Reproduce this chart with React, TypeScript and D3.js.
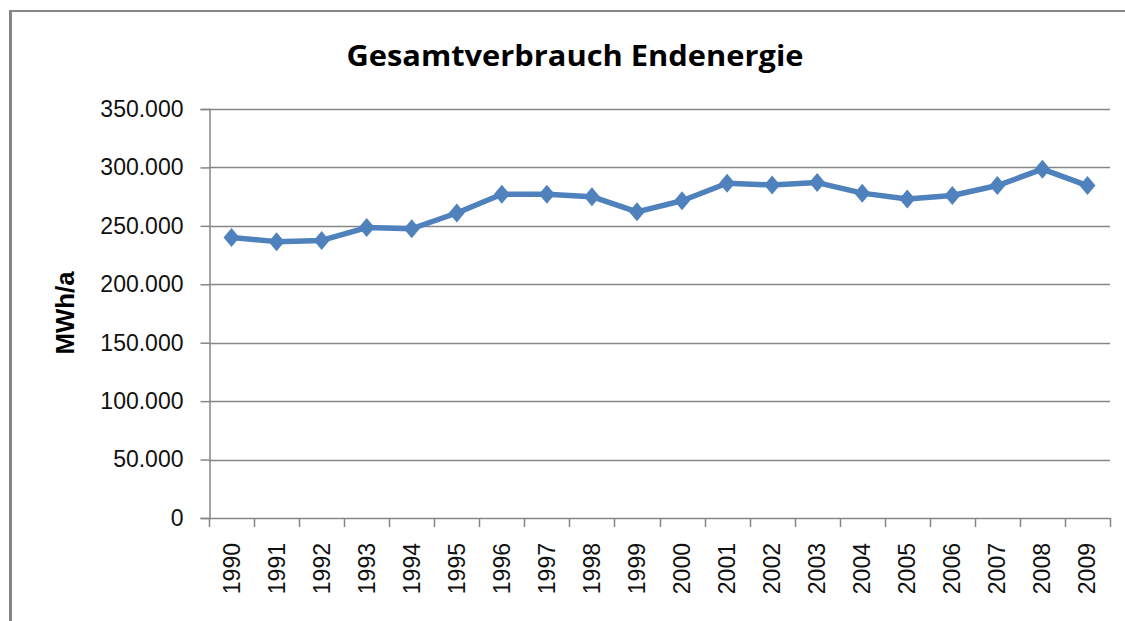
import React, { useEffect, useRef } from 'react';
import * as d3 from 'd3';

// Jahre und Verbrauch (MWh/a)
const years = ['1990', '1991', '1992', '1993', '1994', '1995', '1996', '1997', '1998', '1999',
  '2000', '2001', '2002', '2003', '2004', '2005', '2006', '2007', '2008', '2009'];
const consumption = [240000, 236500, 237500, 248500, 247500, 261000, 277000, 277000, 275000, 262000,
  271500, 286500, 285000, 287000, 278000, 273000, 276000, 284500, 298500, 284500];
const yTicks = [0, 50000, 100000, 150000, 200000, 250000, 300000, 350000];

const title = 'Gesamtverbrauch Endenergie';
const yLabel = 'MWh/a';

const App = () => {
  const svgRef = useRef<SVGSVGElement>(null);

  useEffect(() => {
    if (!svgRef.current) return;
    const W = 1125;
    const H = 621;
    const left = 209, right = 1110, top = 109, bottom = 518;
    const gray = '#868686';
    const blue = '#4F81BD';
    const font = '"Liberation Sans", Arial, sans-serif';

    const svg = d3.select(svgRef.current);
    svg.selectAll('*').remove();
    svg.attr('width', W).attr('height', H);

    svg.append('rect').attr('width', W).attr('height', H).attr('fill', '#fff');

    // Rahmen (nur oben und links sichtbar)
    svg.append('line')
      .attr('x1', 10.5).attr('x2', W).attr('y1', 11).attr('y2', 11)
      .attr('stroke', gray).attr('stroke-width', 2);
    svg.append('line')
      .attr('x1', 10.5).attr('x2', 10.5).attr('y1', 10).attr('y2', H)
      .attr('stroke', gray).attr('stroke-width', 3);

    const de = d3.formatLocale({ decimal: ',', thousands: '.', grouping: [3], currency: ['', ' €'] });
    const fmt = de.format(',d');

    const x = d3.scaleBand().domain(years).range([left, right]).padding(0);
    const y = d3.scaleLinear().domain([0, 350000]).range([bottom, top]);

    // Gitterlinien
    svg.append('g')
      .selectAll('line')
      .data(yTicks.filter(d => d > 0))
      .enter()
      .append('line')
      .attr('x1', left).attr('x2', right)
      .attr('y1', d => Math.round(y(d)) + 0.5).attr('y2', d => Math.round(y(d)) + 0.5)
      .attr('stroke', gray).attr('stroke-width', 1.5);

    // y-Achse
    const yAxis = svg.append('g')
      .attr('transform', `translate(${left + 0.5},0)`)
      .call(d3.axisLeft(y).tickValues(yTicks).tickSize(9).tickPadding(17).tickFormat(d => fmt(d as number)));
    yAxis.select('.domain').attr('stroke', gray).attr('stroke-width', 1.5);
    yAxis.selectAll('.tick line').attr('stroke', gray).attr('stroke-width', 1.5);
    yAxis.selectAll('text')
      .attr('fill', '#111')
      .style('font-family', font)
      .style('font-size', '23px');

    // x-Achse
    const xg = svg.append('g');
    xg.append('line')
      .attr('x1', left).attr('x2', right)
      .attr('y1', bottom + 0.5).attr('y2', bottom + 0.5)
      .attr('stroke', gray).attr('stroke-width', 1.5);
    const boundaries = years.map(d => x(d) as number).concat([right]);
    xg.selectAll('.xtick')
      .data(boundaries)
      .enter()
      .append('line')
      .attr('class', 'xtick')
      .attr('x1', d => Math.round(d) + 0.5).attr('x2', d => Math.round(d) + 0.5)
      .attr('y1', bottom).attr('y2', bottom + 9)
      .attr('stroke', gray).attr('stroke-width', 1.5);
    xg.selectAll('.xlabel')
      .data(years)
      .enter()
      .append('text')
      .attr('class', 'xlabel')
      .attr('transform', d => `translate(${(x(d) as number) + x.bandwidth() / 2 + 8},${bottom + 25}) rotate(-90)`)
      .attr('text-anchor', 'end')
      .style('font-family', font)
      .style('font-size', '23px')
      .attr('fill', '#111')
      .text(d => d);

    // Linie
    const pts = years.map((yr, i) => ({ yr, v: consumption[i] }));
    const line = d3.line<{ yr: string; v: number }>()
      .x(d => (x(d.yr) as number) + x.bandwidth() / 2)
      .y(d => y(d.v));
    svg.append('path')
      .datum(pts)
      .attr('d', line)
      .attr('fill', 'none')
      .attr('stroke', blue)
      .attr('stroke-width', 5.5)
      .attr('stroke-linejoin', 'round');

    // Rauten
    svg.append('g')
      .selectAll('path')
      .data(pts)
      .enter()
      .append('path')
      .attr('transform', d => `translate(${(x(d.yr) as number) + x.bandwidth() / 2},${y(d.v)})`)
      .attr('d', 'M0,-9.5L8,0L0,9.5L-8,0Z')
      .attr('fill', blue);

    // Titel
    svg.append('text')
      .attr('x', 575).attr('y', 66)
      .attr('text-anchor', 'middle')
      .attr('textLength', 457)
      .attr('lengthAdjust', 'spacingAndGlyphs')
      .style('font-family', '"Open Sans", sans-serif')
      .style('font-weight', 700)
      .style('font-size', '29px')
      .attr('fill', '#000')
      .text(title);

    // y-Beschriftung
    svg.append('text')
      .attr('transform', 'translate(74,313) rotate(-90)')
      .attr('text-anchor', 'middle')
      .attr('textLength', 83)
      .attr('lengthAdjust', 'spacingAndGlyphs')
      .style('font-family', font)
      .style('font-weight', 700)
      .style('font-size', '26px')
      .attr('fill', '#000')
      .text(yLabel);
  }, []);

  return <svg ref={svgRef} style={{ position: 'absolute', left: 0, top: 0 }}></svg>;
};

export default App;
